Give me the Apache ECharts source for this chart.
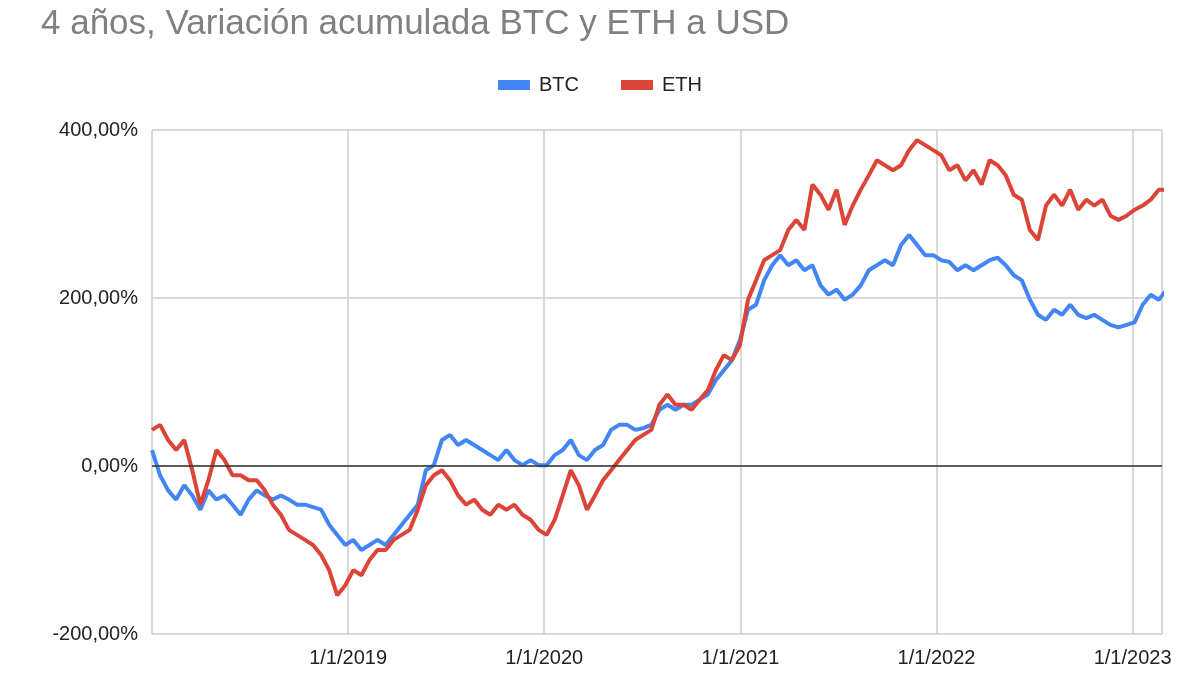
<!DOCTYPE html>
<html>
<head>
<meta charset="utf-8">
<script src="https://cdn.jsdelivr.net/npm/echarts@6/dist/echarts.min.js"></script>
<style>
  html, body { margin: 0; padding: 0; background: #fff; }
  #chart { width: 1200px; height: 675px; }
</style>
</head>
<body>
<div id="chart"></div>
<script>
// Serie quincenal desde 1/1/2018 (paso de 15 días)
const startYear = 2018;
const stepDays = 15;

const btc = [19, -11, -29, -40, -23, -35, -52, -29, -40, -35, -46, -58, -40, -29, -35, -40,
  -35, -40, -46, -46, -49, -52, -70, -82, -94, -88, -100, -94, -88, -94, -82, -70,
  -58, -46, -5, 1, 31, 37, 25, 31, 25, 19, 13, 7, 19, 7, 1, 7,
  1, 1, 13, 19, 31, 13, 7, 19, 25, 43, 49, 49, 43, 45, 49, 67,
  73, 67, 73, 73, 79, 85, 102, 114, 126, 150, 186, 192, 221, 239, 251, 239,
  245, 233, 239, 215, 204, 210, 198, 204, 215, 233, 239, 245, 239, 263, 275, 263,
  251, 251, 245, 243, 233, 239, 233, 239, 245, 248, 239, 227, 221, 198, 180, 174,
  186, 180, 192, 180, 176, 180, 174, 168, 165, 168, 171, 192, 204, 198, 210];

const eth = [43, 49, 31, 19, 31, -5, -46, -17, 19, 7, -11, -11, -17, -17, -29, -46,
  -58, -76, -82, -88, -94, -106, -124, -154, -142, -124, -130, -112, -100, -100, -88, -82,
  -76, -52, -23, -11, -5, -17, -35, -46, -40, -52, -58, -46, -52, -46, -58, -64,
  -76, -82, -64, -35, -5, -23, -52, -35, -17, -5, 7, 19, 31, 37, 43, 73,
  85, 73, 73, 67, 79, 90, 114, 132, 126, 144, 198, 221, 245, 251, 257, 281,
  293, 281, 335, 323, 305, 329, 287, 310, 329, 346, 364, 358, 352, 358, 376, 388,
  382, 376, 370, 352, 358, 340, 352, 335, 364, 358, 346, 323, 317, 281, 269, 310,
  323, 310, 329, 305, 317, 310, 317, 298, 293, 298, 305, 310, 317, 329, 329];

const yTicks = [-200, 0, 200, 400];

function toPoints(values) {
  return values.map((v, i) => [startYear + i * stepDays / 365.25, v]);
}

const font = '"Liberation Sans", Arial, sans-serif';
const chart = echarts.init(document.getElementById('chart'));
chart.setOption({
  animation: false,
  backgroundColor: '#fff',
  title: {
    text: '4 años, Variación acumulada BTC y ETH a USD',
    left: 36, top: 2,
    textStyle: { fontFamily: font, fontSize: 35, fontWeight: 'normal', color: '#808080' }
  },
  legend: {
    top: 70, left: 'center', itemWidth: 32, itemHeight: 10, itemGap: 42,
    icon: 'rect',
    textStyle: { fontFamily: font, fontSize: 20, color: '#222', padding: [0, 0, 0, 4] },
    data: ['BTC', 'ETH']
  },
  grid: { left: 152, right: 38, top: 130, bottom: 41 },
  xAxis: {
    type: 'value', min: 2018, max: 2023.15, interval: 1,
    axisLine: { show: false }, axisTick: { show: false },
    splitLine: { show: true, lineStyle: { color: '#ccc', width: 1.5 } },
    axisLabel: {
      fontFamily: font, fontSize: 20, color: '#222', margin: 14,
      formatter: v => (v > 2018 && Number.isInteger(v)) ? '1/1/' + v : ''
    }
  },
  yAxis: {
    type: 'value', min: yTicks[0], max: yTicks[yTicks.length - 1], interval: 200,
    axisLine: { show: false }, axisTick: { show: false },
    splitLine: { lineStyle: { color: '#ccc', width: 1.5 } },
    axisLabel: {
      fontFamily: font, fontSize: 20, color: '#222', margin: 14,
      formatter: v => v.toFixed(2).replace('.', ',') + '%'
    }
  },
  series: [
    {
      name: 'BTC', type: 'line', data: toPoints(btc), showSymbol: false,
      itemStyle: { color: '#4285f4' }, lineStyle: { width: 4, color: '#4285f4' }, z: 2,
      markLine: {
        silent: true, symbol: 'none', label: { show: false },
        lineStyle: { color: '#333', width: 1.5, type: 'solid' },
        data: [{ yAxis: 0 }]
      }
    },
    {
      name: 'ETH', type: 'line', data: toPoints(eth), showSymbol: false,
      itemStyle: { color: '#db4437' }, lineStyle: { width: 4, color: '#db4437' }, z: 3
    }
  ]
});
</script>
</body>
</html>
